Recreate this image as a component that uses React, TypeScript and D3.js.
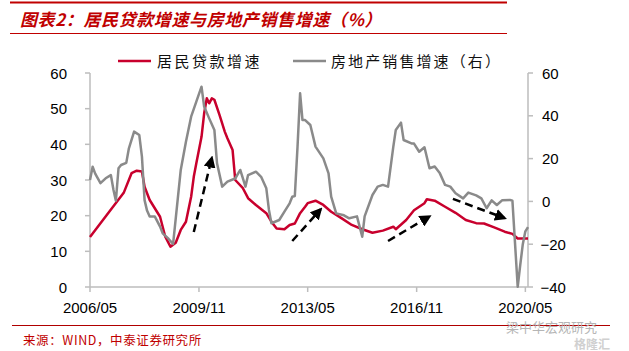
import React from "react";
import * as d3 from "d3";

// 居民贷款增速 (left axis, %)
const loanDates = [
  "2006-05", "2007-06", "2007-09", "2007-11", "2008-01", "2008-02", "2008-04",
  "2008-08", "2008-10", "2008-12", "2009-02", "2009-04", "2009-06", "2009-08",
  "2009-09", "2009-10", "2009-12", "2010-01", "2010-02", "2010-03", "2010-04",
  "2010-05", "2010-07", "2010-09", "2010-10", "2010-12", "2011-01", "2011-04",
  "2011-06", "2011-09", "2012-01", "2012-03", "2012-05", "2012-08", "2012-10",
  "2012-12", "2013-02", "2013-04", "2013-05", "2013-08", "2013-11", "2014-02",
  "2014-06", "2014-10", "2015-02", "2015-06", "2015-10", "2016-02", "2016-03",
  "2016-07", "2016-10", "2017-02", "2017-03", "2017-06", "2017-10", "2018-02",
  "2018-06", "2018-10", "2019-01", "2019-05", "2019-09", "2019-12", "2020-02",
  "2020-06"
];
const loanValues = [
  14, 26.4, 31.9, 32.6, 32.4, 28.1, 24.4,
  19.7, 14.1, 11.3, 12.4, 16, 18.3, 25.3,
  30.9, 34.7, 42.1, 48.7, 52.9, 51.5, 52.9,
  52.5, 48.2, 43.5, 41.7, 38.4, 30, 27.7,
  24.9, 23, 20.7, 18.3, 16.4, 16.2, 17.4,
  17.8, 20.7, 22.5, 23.5, 24.2, 23, 21.1,
  19.3, 17.4, 16.2, 15.2, 15.8, 16.9, 16.2,
  18.8, 21.5, 23.5, 24.6, 24.2, 22.5, 20.8,
  18.8, 17.9, 17.8, 16.7, 15.5, 14.9, 13.6,
  13.6
];

// 房地产销售增速 (right axis, %)
const salesDates = [
  "2006-05", "2006-06", "2006-07", "2006-09", "2006-11", "2007-01", "2007-02",
  "2007-03", "2007-04", "2007-05", "2007-07", "2007-08", "2007-10", "2007-12",
  "2008-01", "2008-02", "2008-03", "2008-04", "2008-06", "2008-08", "2008-09",
  "2008-11", "2009-01", "2009-02", "2009-04", "2009-06", "2009-08", "2009-10",
  "2009-12", "2010-01", "2010-03", "2010-05", "2010-06", "2010-08", "2010-10",
  "2011-01", "2011-03", "2011-05", "2011-06", "2011-09", "2011-11", "2012-01",
  "2012-02", "2012-03", "2012-06", "2012-08", "2012-10", "2012-11", "2012-12",
  "2013-01", "2013-02", "2013-03", "2013-04", "2013-06", "2013-08", "2013-11",
  "2014-01", "2014-02", "2014-04", "2014-07", "2014-09", "2014-12", "2015-01",
  "2015-02", "2015-03", "2015-06", "2015-08", "2015-10", "2015-12", "2016-02",
  "2016-03", "2016-05", "2016-06", "2016-09", "2016-10", "2016-12", "2017-02",
  "2017-04", "2017-06", "2017-08", "2017-10", "2017-12", "2018-02", "2018-05",
  "2018-07", "2018-10", "2018-12", "2019-02", "2019-04", "2019-06", "2019-08",
  "2019-11", "2019-12", "2020-02", "2020-03", "2020-04", "2020-05", "2020-06"
];
const salesValues = [
  10, 16.2, 13, 8.5, 10.8, 12.3, 5.3,
  0.3, 15.5, 17, 18, 24.8, 32.6, 31,
  20.9, 0.6, -4.3, -7.1, -7.1, -11.8, -14.9,
  -17.2, -19.9, -8, 14.7, 27.9, 39.6, 46.6,
  53.6, 44.3, 38.8, 33.4, 17.8, 6.9, 9.2,
  10.7, 14.7, 6.9, 12.3, 13.9, 11.5, 6.1,
  -4, -10.2, -8.7, -4.8, -0.9, 2.2, 2.5,
  25, 50.5, 38, 38, 35.7, 25.6, 20.1,
  13.1, 2.2, -5.6, -6.5, -7.9, -7, -11.8,
  -16.5, -7, 3, 6.9, 7.7, 6.9, 25.6,
  33.4, 36.8, 28.7, 27.1, 27, 23.2, 25.3,
  15.5, 16.3, 13.1, 7.7, 6.9, 3.8, 1.4,
  4.1, 2.8, 1.4, -3.2, 0.5, -1.7, 0.5,
  0.7, 0.3, -39.9, -30, -20, -14, -12
];

const xTickLabels = ["2006/05", "2009/11", "2013/05", "2016/11", "2020/05"];
const leftTicks = [0, 10, 20, 30, 40, 50, 60];
const rightTicks = [-40, -20, 0, 20, 40, 60];

// dashed arrows, [date, left-axis value]
const arrowStarts: [string, number][] = [["2009-09", 15.4], ["2012-11", 12.9], ["2015-12", 12.9], ["2018-01", 24.7]];
const arrowEnds: [string, number][] = [["2010-04", 36.2], ["2013-10", 21.8], ["2017-04", 19.8], ["2019-09", 19.3]];

const RED = "#c8002d";
const GRAY = "#8a8a8a";
const AXIS = "#bdbdbd";
const TITLE_RED = "#c00000";

const parse = d3.timeParse("%Y-%m");

export default function App() {
  const x = d3.scaleTime().domain([parse("2006-05")!, parse("2020-06")!]).range([90, 528]);
  const yL = d3.scaleLinear().domain([0, 60]).range([287, 73]);
  const yR = d3.scaleLinear().domain([-40, 60]).range([287, 73]);

  const loanLine = d3
    .line<number>()
    .x((_, i) => x(parse(loanDates[i])!))
    .y(d => yL(d));
  const salesLine = d3
    .line<number>()
    .x((_, i) => x(parse(salesDates[i])!))
    .y(d => yR(d));

  const xTicks = xTickLabels.map(s => parse(s.replace("/", "-"))!);

  const cjk = "'Noto Sans CJK SC', sans-serif";
  const num = "'Liberation Sans', Arial, sans-serif";

  return (
    <svg width={629} height={351} style={{ position: "absolute", left: 0, top: 0, background: "#fff" }}>
      <defs>
        <marker id="ah" viewBox="0 0 10 10" refX="8" refY="5" markerWidth="12" markerHeight="12"
          markerUnits="userSpaceOnUse" orient="auto">
          <path d="M0,0 L10,5 L0,10 z" fill="#000" />
        </marker>
      </defs>

      {/* title block */}
      <line x1={10} x2={507} y1={2.5} y2={2.5} stroke={TITLE_RED} strokeWidth={2} />
      <text x={20} y={26} fill={TITLE_RED} fontFamily={cjk} fontSize={17} fontStyle="italic"
        fontWeight="bold" letterSpacing={0.6}>
        图表2：居民贷款增速与房地产销售增速（%）
      </text>
      <line x1={10} x2={507} y1={33.5} y2={33.5} stroke={TITLE_RED} strokeWidth={1} />

      {/* legend */}
      <line x1={118} x2={151} y1={61} y2={61} stroke={RED} strokeWidth={2.5} />
      <text x={157} y={66.5} fontFamily={cjk} fontSize={15} letterSpacing={2.5} fill="#111">居民贷款增速</text>
      <line x1={293} x2={326} y1={61} y2={61} stroke={GRAY} strokeWidth={2.5} />
      <text x={331} y={66.5} fontFamily={cjk} fontSize={15} letterSpacing={2.1} fill="#111">房地产销售增速（右）</text>

      {/* left axis */}
      <line x1={90} x2={90} y1={73} y2={287} stroke={AXIS} strokeWidth={1.5} />
      {leftTicks.map(t => (
        <g key={"l" + t}>
          <line x1={85} x2={90} y1={yL(t)} y2={yL(t)} stroke={AXIS} strokeWidth={1.5} />
          <text x={67} y={yL(t) + 5.5} textAnchor="end" fontFamily={num} fontSize={15} fill="#000">{t}</text>
        </g>
      ))}

      {/* right axis */}
      <line x1={528} x2={528} y1={73} y2={287} stroke={AXIS} strokeWidth={1.5} />
      {rightTicks.map(t => (
        <g key={"r" + t}>
          <line x1={528} x2={533} y1={yR(t)} y2={yR(t)} stroke={AXIS} strokeWidth={1.5} />
          <text x={t < 0 ? 540.5 : 542} y={yR(t) + 5.5} fontFamily={num} fontSize={15} fill="#000">
            {t < 0 ? "\u2212" + Math.abs(t) : t}
          </text>
        </g>
      ))}

      {/* x axis */}
      <line x1={90} x2={528} y1={287} y2={287} stroke={AXIS} strokeWidth={1.5} />
      {xTicks.map((d, i) => (
        <g key={"x" + i}>
          <line x1={x(d)} x2={x(d)} y1={287} y2={292} stroke={AXIS} strokeWidth={1.5} />
          <text x={x(d)} y={313} textAnchor="middle" fontFamily={num} fontSize={15} fill="#000">
            {xTickLabels[i]}
          </text>
        </g>
      ))}

      {/* series */}
      <path d={loanLine(loanValues) || ""} fill="none" stroke={RED} strokeWidth={2.5} strokeLinejoin="round" />
      <path d={salesLine(salesValues) || ""} fill="none" stroke={GRAY} strokeWidth={2.5} strokeLinejoin="round" />

      {/* arrows */}
      {arrowStarts.map((s, i) => (
        <line key={"a" + i}
          x1={x(parse(s[0])!)} y1={yL(s[1])}
          x2={x(parse(arrowEnds[i][0])!)} y2={yL(arrowEnds[i][1])}
          stroke="#000" strokeWidth={2.5} strokeDasharray="8 5" markerEnd="url(#ah)" />
      ))}

      {/* footer */}
      <line x1={12} x2={610} y1={325.5} y2={325.5} stroke="#b00000" strokeWidth={1} />
      <text x={23} y={345} fontFamily={cjk} fontSize={12.5} fill={TITLE_RED} letterSpacing={0.6}>
        来源：WIND，中泰证券研究所
      </text>
      <text x={506} y={332} fontFamily={cjk} fontSize={13} fill="#b5b5b5">梁中华宏观研究</text>
      <text x={574} y={349} fontFamily={cjk} fontSize={12} fill="#d0d0d0" fontWeight="bold">格隆汇</text>
    </svg>
  );
}
